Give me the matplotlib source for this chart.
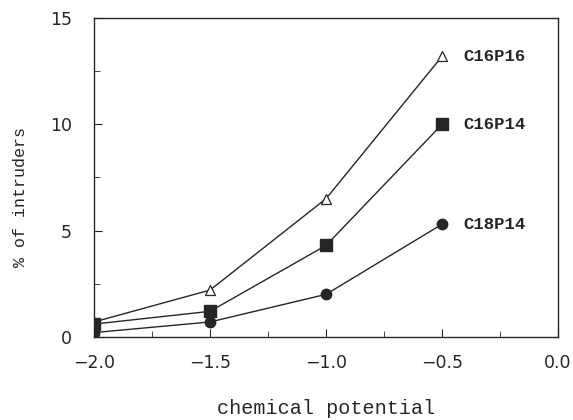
import matplotlib
matplotlib.use("Agg")
import matplotlib.pyplot as plt
from matplotlib.ticker import MultipleLocator

# chemical potential values
mu = [-2.0, -1.5, -1.0, -0.5]

# % of intruders for each system
c16p16 = [0.7, 2.2, 6.5, 13.2]
c16p14 = [0.6, 1.2, 4.3, 10.0]
c18p14 = [0.2, 0.7, 2.0, 5.3]

ink = "#262626"

fig = plt.figure(figsize=(5.73, 4.2), dpi=100)
ax = fig.add_axes([0.164, 0.198, 0.81, 0.759])

ax.plot(mu, c16p16, color=ink, lw=1.0, marker="^", ms=7, mfc="white", mec=ink, mew=0.9)
ax.plot(mu, c16p14, color=ink, lw=1.0, marker="s", ms=8.5, mfc=ink, mec=ink)
ax.plot(mu, c18p14, color=ink, lw=1.0, marker="o", ms=7.5, mfc=ink, mec=ink)

# series labels next to the last point
for name, ys in [("C16P16", c16p16), ("C16P14", c16p14), ("C18P14", c18p14)]:
    ax.annotate(name, xy=(mu[-1], ys[-1]), xytext=(15, 0), textcoords="offset points",
                va="center", ha="left", fontsize=12.5, fontweight="bold",
                family="Liberation Mono", color=ink)

ax.set_xlim(-2.0, 0.0)
ax.set_ylim(0, 15)
ax.xaxis.set_major_locator(MultipleLocator(0.5))
ax.xaxis.set_minor_locator(MultipleLocator(0.25))
ax.yaxis.set_major_locator(MultipleLocator(5))
ax.yaxis.set_minor_locator(MultipleLocator(2.5))
ax.tick_params(which="both", direction="in", color=ink, labelcolor=ink, labelsize=12.5)
ax.tick_params(which="major", length=6)
ax.tick_params(axis="x", which="major", pad=12)
ax.tick_params(axis="y", which="major", pad=16)
ax.tick_params(which="minor", length=4)
ax.xaxis.set_major_formatter(plt.FuncFormatter(lambda v, p: f"{v:.1f}".replace("-", "\u2212")))
for s in ax.spines.values():
    s.set_color(ink)
    s.set_linewidth(1.0)

ax.set_xlabel("chemical potential", family="Liberation Mono", fontsize=14.5, color=ink, labelpad=20)
ax.set_ylabel("% of intruders", family="Liberation Mono", fontsize=12, color=ink)
ax.yaxis.set_label_coords(-0.142, 0.44)

fig.savefig("out.png", dpi=100)
